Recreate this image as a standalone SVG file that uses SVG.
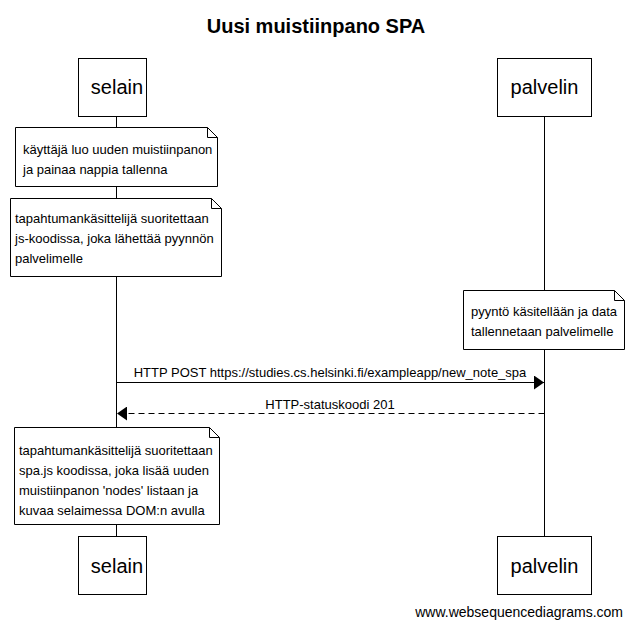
<svg xmlns="http://www.w3.org/2000/svg" width="632" height="628" viewBox="0 0 632 628">
<defs>
<style>
text{font-family:"Liberation Sans",Arial,sans-serif;fill:#000}
.title{font-size:20px;font-weight:bold;text-anchor:middle}
.actor rect{fill:#fff;stroke:#000;stroke-width:1}
.actor text{font-size:20px;text-anchor:middle}
.note path{fill:#fff;stroke:#000;stroke-width:1}
.note text{font-size:13px}
.life{stroke:#000;stroke-width:1}
.msg{stroke:#000;stroke-width:1;fill:none}
.lbl{font-size:13px;text-anchor:middle}
.foot{font-size:14px;text-anchor:end}
</style>
<marker id="ah" markerWidth="10" markerHeight="14" refX="10" refY="7" orient="auto" markerUnits="userSpaceOnUse">
<path d="M0,0 L10,7 L0,14 Z" fill="#000"/>
</marker>
</defs>
<rect width="632" height="628" fill="#fff"/>
<text class="title" x="316" y="33">Uusi muistiinpano SPA</text>
<g id="lifelines">
<line class="life" x1="116.5" y1="116" x2="116.5" y2="536"/>
<line class="life" x1="544.5" y1="116" x2="544.5" y2="536"/>
</g>
<g id="selain-top" class="actor"><rect x="78.5" y="58.5" width="68" height="58"/><text x="117" y="94">selain</text></g>
<g id="palvelin-top" class="actor"><rect x="497.5" y="58.5" width="94" height="58"/><text x="544.5" y="94">palvelin</text></g>
<g id="selain-bottom" class="actor"><rect x="78.5" y="536.5" width="68" height="58"/><text x="117" y="573">selain</text></g>
<g id="palvelin-bottom" class="actor"><rect x="497.5" y="536.5" width="94" height="58"/><text x="544.5" y="573">palvelin</text></g>
<g id="note1" class="note">
<path d="M15.5,127.5 H207.5 L217.5,137.5 V186.5 H15.5 Z M207.5,127.5 V137.5 H217.5"/>
<text x="23" y="154">käyttäjä luo uuden muistiinpanon</text>
<text x="23" y="174">ja painaa nappia tallenna</text>
</g>
<g id="note2" class="note">
<path d="M10.5,198.5 H211.5 L221.5,208.5 V276.5 H10.5 Z M211.5,198.5 V208.5 H221.5"/>
<text x="15" y="223">tapahtumankäsittelijä suoritettaan</text>
<text x="15" y="243">js-koodissa, joka lähettää pyynnön</text>
<text x="15" y="263">palvelimelle</text>
</g>
<g id="note3" class="note">
<path d="M463.5,290.5 H614.5 L624.5,300.5 V349.5 H463.5 Z M614.5,290.5 V300.5 H624.5"/>
<text x="471" y="316">pyyntö käsitellään ja data</text>
<text x="471" y="336">tallennetaan palvelimelle</text>
</g>
<g id="note4" class="note">
<path d="M14.5,427.5 H209.5 L219.5,437.5 V524.5 H14.5 Z M209.5,427.5 V437.5 H219.5"/>
<text x="19" y="455">tapahtumankäsittelijä suoritettaan</text>
<text x="19" y="475">spa.js koodissa, joka lisää uuden</text>
<text x="19" y="495">muistiinpanon 'nodes' listaan ja</text>
<text x="19" y="515">kuvaa selaimessa DOM:n avulla</text>
</g>
<g id="connectors">
<line class="msg" x1="116.5" y1="382.5" x2="544" y2="382.5" marker-end="url(#ah)"/>
<text class="lbl" x="330" y="377">HTTP POST https://studies.cs.helsinki.fi/exampleapp/new_note_spa</text>
<line class="msg" x1="544.5" y1="413.5" x2="117" y2="413.5" stroke-dasharray="6,4" marker-end="url(#ah)"/>
<text class="lbl" x="330" y="409">HTTP-statuskoodi 201</text>
</g>
<text class="foot" x="623" y="617">www.websequencediagrams.com</text>
</svg>
